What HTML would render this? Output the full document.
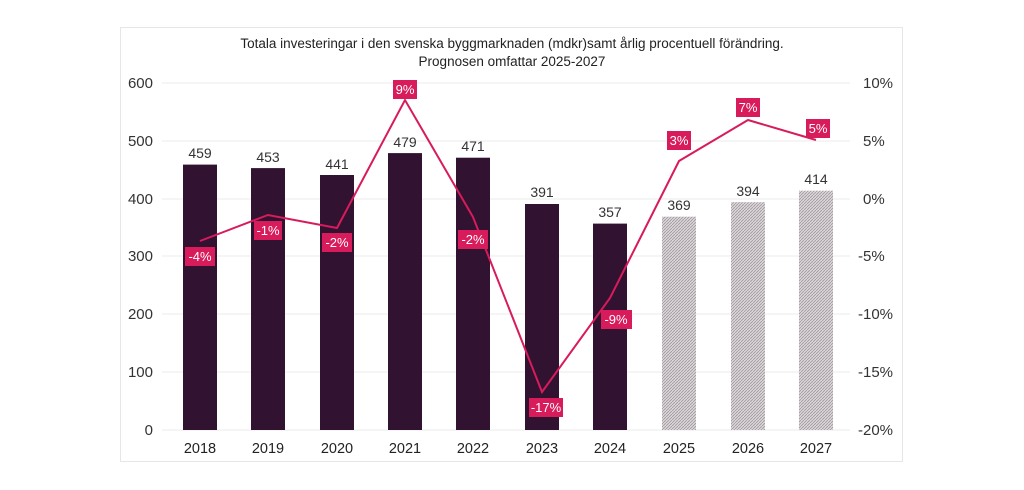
<!DOCTYPE html>
<html><head><meta charset="utf-8"><style>
body{margin:0;background:#fff;}
svg{display:block;font-family:"Liberation Sans",sans-serif;}
</style></head><body>
<svg width="1024" height="490" viewBox="0 0 1024 490">
<defs>
<pattern id="h" width="3" height="3" patternUnits="userSpaceOnUse">
<rect width="3" height="3" fill="#dcd7da"/>
<path d="M0,3 L3,0" stroke="#9e959b" stroke-width="0.8"/>
</pattern>
</defs>
<rect x="120.5" y="27.5" width="782" height="434" fill="#fff" stroke="#e6e6e6"/>
<g font-size="13.5" fill="#222" text-anchor="middle">
<text x="512" y="48">Totala investeringar i den svenska byggmarknaden (mdkr)samt årlig procentuell förändring.</text>
<text x="512" y="66">Prognosen omfattar 2025-2027</text>
</g>
<g stroke="#ebebeb" stroke-width="1">
<line x1="162" x2="850" y1="83" y2="83"/><line x1="162" x2="850" y1="141" y2="141"/>
<line x1="162" x2="850" y1="199" y2="199"/><line x1="162" x2="850" y1="256" y2="256"/>
<line x1="162" x2="850" y1="314" y2="314"/><line x1="162" x2="850" y1="372" y2="372"/>
<line x1="162" x2="850" y1="430" y2="430"/>
</g>
<g font-size="15" fill="#333" text-anchor="end">
<text x="153" y="88">600</text><text x="153" y="146">500</text><text x="153" y="204">400</text>
<text x="153" y="261">300</text><text x="153" y="319">200</text><text x="153" y="377">100</text><text x="153" y="435">0</text>
</g>
<g font-size="15" fill="#333" text-anchor="start">
<text x="863" y="88">10%</text><text x="863" y="146">5%</text><text x="863" y="204">0%</text>
<text x="858" y="261">-5%</text><text x="858" y="319">-10%</text><text x="858" y="377">-15%</text><text x="858" y="435">-20%</text>
</g>
<g fill="#311331">
<rect x="183" y="164.6" width="34" height="265.4"/>
<rect x="251" y="168.1" width="34" height="261.9"/>
<rect x="320" y="175" width="34" height="255"/>
<rect x="388" y="153.1" width="34" height="276.9"/>
<rect x="456" y="157.7" width="34" height="272.3"/>
<rect x="525" y="204" width="34" height="226"/>
<rect x="593" y="223.6" width="34" height="206.4"/>
</g>
<g fill="url(#h)">
<rect x="662" y="216.7" width="34" height="213.3"/>
<rect x="731" y="202.2" width="34" height="227.8"/>
<rect x="799" y="190.7" width="34" height="239.3"/>
</g>
<g font-size="14" fill="#333" text-anchor="middle">
<text x="200" y="158">459</text><text x="268" y="162">453</text><text x="337" y="169">441</text>
<text x="405" y="147">479</text><text x="473" y="151">471</text><text x="542" y="197">391</text>
<text x="610" y="217">357</text><text x="679" y="210">369</text><text x="748" y="196">394</text><text x="816" y="184">414</text>
</g>
<g font-size="14.5" fill="#222" text-anchor="middle">
<text x="200" y="453">2018</text><text x="268" y="453">2019</text><text x="337" y="453">2020</text>
<text x="405" y="453">2021</text><text x="473" y="453">2022</text><text x="542" y="453">2023</text>
<text x="610" y="453">2024</text><text x="679" y="453">2025</text><text x="748" y="453">2026</text><text x="816" y="453">2027</text>
</g>
<polyline fill="none" stroke="#d81b5a" stroke-width="2" points="200,241 268,215 337,228 405,100 473,217 542,392 610,298 679,161 748,120 816,140"/>
<g fill="#d81b5a">
<rect x="185" y="247" width="30" height="19"/>
<rect x="254" y="221" width="28" height="19"/>
<rect x="322" y="233" width="30" height="19"/>
<rect x="393" y="80" width="24" height="19"/>
<rect x="458" y="230" width="30" height="19"/>
<rect x="529" y="398" width="34" height="19"/>
<rect x="601" y="310" width="31" height="19"/>
<rect x="667" y="131" width="24" height="19"/>
<rect x="736" y="98" width="24" height="19"/>
<rect x="806" y="119" width="24" height="19"/>
</g>
<g font-size="13" fill="#fff" text-anchor="middle">
<text x="200" y="261">-4%</text><text x="268" y="235">-1%</text><text x="337" y="247">-2%</text>
<text x="405" y="94">9%</text><text x="473" y="244">-2%</text><text x="546" y="412">-17%</text>
<text x="616" y="324">-9%</text><text x="679" y="145">3%</text><text x="748" y="112">7%</text><text x="818" y="133">5%</text>
</g>
</svg>
</body></html>
